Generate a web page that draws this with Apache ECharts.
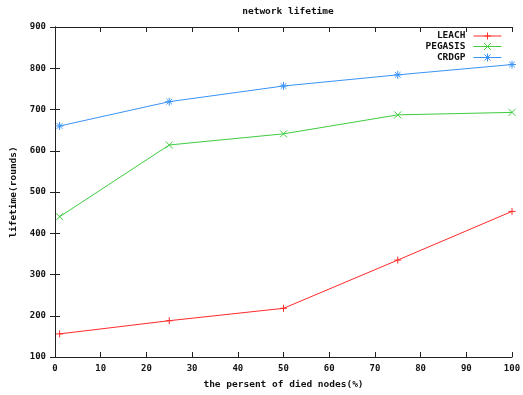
<!DOCTYPE html>
<html>
<head>
<meta charset="utf-8">
<script src="https://cdn.jsdelivr.net/npm/echarts@6/dist/echarts.min.js"></script>
<style>
  html, body { margin: 0; padding: 0; background: #fff; }
  #chart { width: 523px; height: 395px; }
</style>
</head>
<body>
<div id="chart"></div>
<script>
// percentage of dead nodes at which lifetime was measured
const percentDied = [1, 25, 50, 75, 100];
// network lifetime in rounds per protocol
const leach   = [156, 188, 218, 335, 453];
const pegasis = [440, 614, 641, 687, 693];
const crdgp   = [660, 719, 757, 784, 809];

const seriesNames = ['LEACH', 'PEGASIS', 'CRDGP'];
const seriesColors = ['#ff2a2a', '#3fcc3f', '#3a93f7'];
const seriesMarks = [
  'path://M5,0L5,10M0,5L10,5',
  'path://M0,0L10,10M10,0L0,10',
  'path://M5,0L5,10M0,5L10,5M1.5,1.5L8.5,8.5M8.5,1.5L1.5,8.5'
];
// legend keys: a short line with the marker in its middle (28 x 8 box)
const legendKeys = [
  'path://M0,4L28,4M14,0.5L14,7.5M10.5,4L17.5,4',
  'path://M0,4L28,4M10.5,0.5L17.5,7.5M17.5,0.5L10.5,7.5',
  'path://M0,4L28,4M14,0L14,8M10,4L18,4M11,1L17,7M17,1L11,7'
];
const seriesValues = [leach, pegasis, crdgp];

const font = '"DejaVu Sans Mono", "Liberation Mono", monospace';
const axisColor = '#222';

function pairs(values) {
  return values.map((v, i) => [percentDied[i], v]);
}

const chart = echarts.init(document.getElementById('chart'), null, { renderer: 'canvas' });

const hiddenAxisLabel = { show: false };
const tickStyle = { show: true, inside: true, length: 5, lineStyle: { color: axisColor, width: 1 } };

chart.setOption({
  backgroundColor: '#fff',
  animation: false,
  title: {
    text: 'network lifetime',
    left: 283,
    top: 2,
    textAlign: 'center',
    textStyle: { fontFamily: font, fontSize: 9.5, fontWeight: 'bold', color: '#111' }
  },
  grid: { left: 55, right: 11, top: 27, bottom: 38, containLabel: false, outerBoundsMode: 'none' },
  legend: {
    orient: 'vertical',
    right: 19,
    top: 30,
    padding: 0,
    itemGap: -1.5,
    itemWidth: 28,
    itemHeight: 8,
    align: 'right',
    textStyle: { fontFamily: font, fontSize: 9.5, fontWeight: 'bold', color: '#111', padding: [0, 3, 0, 0], lineHeight: 10 },
    data: seriesNames.map((name, i) => ({
      name: name,
      icon: legendKeys[i],
      itemStyle: { color: 'none', borderColor: seriesColors[i], borderWidth: 1 }
    }))
  },
  xAxis: [
    {
      type: 'value',
      min: 0, max: 100, interval: 10,
      position: 'bottom',
      name: 'the persent of died nodes(%)',
      nameLocation: 'middle',
      nameGap: 23,
      nameTextStyle: { fontFamily: font, fontSize: 9.5, fontWeight: 'bold', color: '#111' },
      axisLine: { show: true, lineStyle: { color: axisColor, width: 1 } },
      axisTick: tickStyle,
      axisLabel: { fontFamily: font, fontSize: 9, fontWeight: 'bold', color: '#111', margin: 7 },
      splitLine: { show: false }
    },
    {
      type: 'value',
      min: 0, max: 100, interval: 10,
      position: 'top',
      axisLine: { show: true, lineStyle: { color: axisColor, width: 1 } },
      axisTick: tickStyle,
      axisLabel: hiddenAxisLabel,
      splitLine: { show: false }
    }
  ],
  yAxis: [
    {
      type: 'value',
      min: 100, max: 900, interval: 100,
      position: 'left',
      name: 'lifetime(rounds)',
      nameLocation: 'middle',
      nameGap: 36,
      nameRotate: 90,
      nameTextStyle: { fontFamily: font, fontSize: 9.5, fontWeight: 'bold', color: '#111' },
      axisLine: { show: true, lineStyle: { color: axisColor, width: 1 } },
      axisTick: tickStyle,
      axisLabel: { fontFamily: font, fontSize: 9, fontWeight: 'bold', color: '#111', margin: 9 },
      splitLine: { show: false }
    },
    {
      type: 'value',
      min: 100, max: 900, interval: 100,
      position: 'right',
      axisLine: { show: true, lineStyle: { color: axisColor, width: 1 } },
      axisTick: tickStyle,
      axisLabel: hiddenAxisLabel,
      splitLine: { show: false }
    }
  ],
  series: seriesNames.map((name, i) => ({
    name: name,
    type: 'line',
    xAxisIndex: 0,
    yAxisIndex: 0,
    data: pairs(seriesValues[i]),
    symbol: seriesMarks[i],
    symbolSize: i === 2 ? 8 : 7,
    showAllSymbol: true,
    lineStyle: { color: seriesColors[i], width: 1 },
    itemStyle: { color: seriesColors[i], borderColor: seriesColors[i], borderWidth: 1 },
    emphasis: { disabled: true }
  }))
});
</script>
</body>
</html>
